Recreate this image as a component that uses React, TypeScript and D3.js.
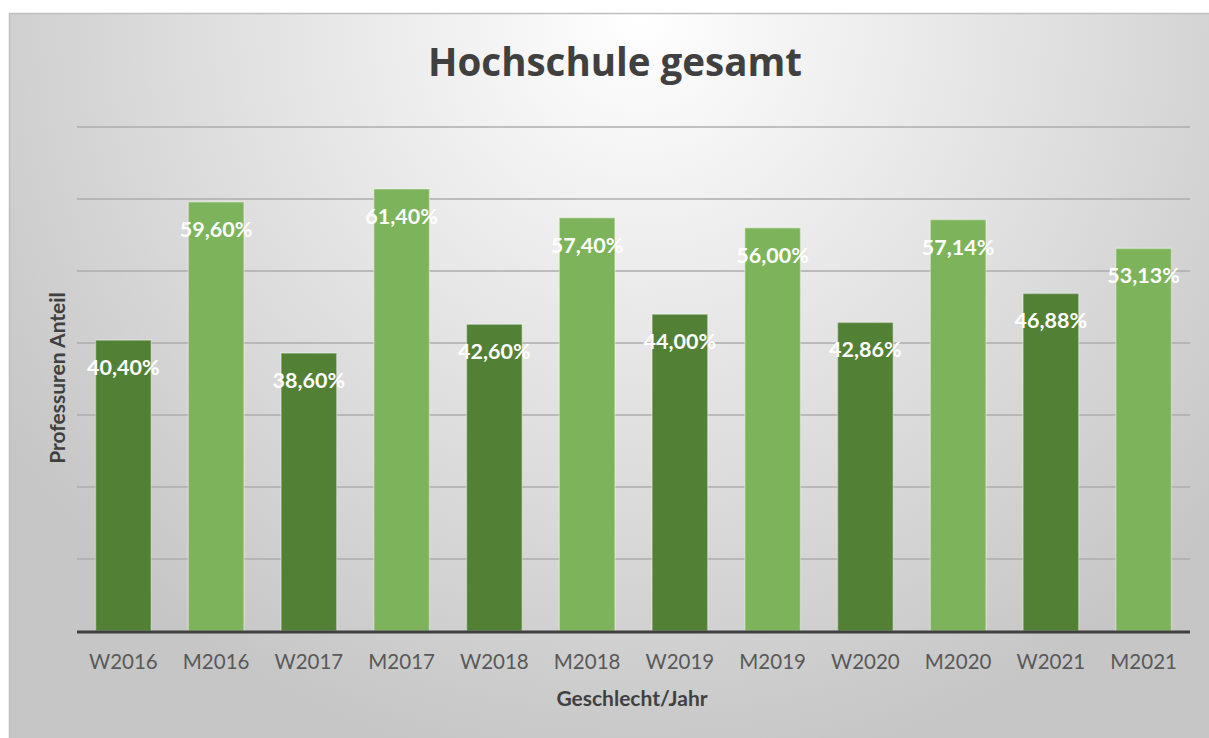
import React, { useRef, useEffect } from "react";
import * as d3 from "d3";

const categories = ["W2016", "M2016", "W2017", "M2017", "W2018", "M2018", "W2019", "M2019", "W2020", "M2020", "W2021", "M2021"];
const values = [40.4, 59.6, 38.6, 61.4, 42.6, 57.4, 44.0, 56.0, 42.86, 57.14, 46.88, 53.13];
const gridTicks = [10, 20, 30, 40, 50, 60, 70];

const W = 1209;
const H = 738;
const FONT = "Lato, 'Open Sans', sans-serif";
const TITLE_FONT = "'Open Sans', Lato, sans-serif";

export default function App() {
  const ref = useRef<SVGSVGElement>(null);

  useEffect(() => {
    const svg = d3.select(ref.current);
    svg.selectAll("*").remove();

    // hintergrund
    const defs = svg.append("defs");
    const grad = defs
      .append("radialGradient")
      .attr("id", "bg")
      .attr("gradientUnits", "userSpaceOnUse")
      .attr("cx", 640)
      .attr("cy", 20)
      .attr("r", 760);
    grad.append("stop").attr("offset", "0%").attr("stop-color", "#ffffff");
    grad.append("stop").attr("offset", "100%").attr("stop-color", "#c6c6c6");

    svg.append("rect")
      .attr("x", 9.5)
      .attr("y", 13.5)
      .attr("width", W)
      .attr("height", H)
      .attr("fill", "url(#bg)")
      .attr("stroke", "#bfbfbf")
      .attr("stroke-width", 1.5);

    const left = 77;
    const right = 1190;
    const x = d3.scaleBand<string>()
      .domain(categories)
      .range([left, right])
      .paddingInner(0.4)
      .paddingOuter(0.2);

    const y = d3.scaleLinear().domain([0, 70]).range([631, 127]);

    // gitterlinien
    svg.append("g")
      .selectAll("line")
      .data(gridTicks)
      .enter()
      .append("line")
      .attr("x1", left)
      .attr("x2", right)
      .attr("y1", d => y(d))
      .attr("y2", d => y(d))
      .attr("stroke", "#adadad")
      .attr("stroke-width", 1.5);

    // balken
    svg.append("g")
      .selectAll("rect")
      .data(values)
      .enter()
      .append("rect")
      .attr("x", (_, i) => x(categories[i])!)
      .attr("width", x.bandwidth())
      .attr("y", d => y(d))
      .attr("height", d => y(0) - y(d))
      .attr("fill", (_, i) => (i % 2 === 0 ? "#528034" : "#7db35a"))
      .attr("stroke", "rgba(255,255,255,0.35)")
      .attr("stroke-width", 1.5);

    // achse
    svg.append("line")
      .attr("x1", left)
      .attr("x2", right)
      .attr("y1", y(0) + 1)
      .attr("y2", y(0) + 1)
      .attr("stroke", "#404040")
      .attr("stroke-width", 3);

    // werte
    svg.append("g")
      .selectAll("text")
      .data(values)
      .enter()
      .append("text")
      .attr("x", (_, i) => x(categories[i])! + x.bandwidth() / 2)
      .attr("y", d => y(d) + 35)
      .attr("text-anchor", "middle")
      .attr("font-family", FONT)
      .attr("font-weight", "bold")
      .attr("font-size", 21.5)
      .attr("fill", "#ffffff")
      .text(d => d.toFixed(2).replace(".", ",") + "%");

    // kategorien
    svg.append("g")
      .selectAll("text")
      .data(categories)
      .enter()
      .append("text")
      .attr("x", d => x(d)! + x.bandwidth() / 2)
      .attr("y", 669)
      .attr("text-anchor", "middle")
      .attr("font-family", FONT)
      .attr("font-size", 20.5)
      .attr("fill", "#595959")
      .text(d => d);

    svg.append("text")
      .attr("x", 615)
      .attr("y", 76)
      .attr("text-anchor", "middle")
      .attr("font-family", TITLE_FONT)
      .attr("font-weight", "bold")
      .attr("font-size", 38.5)
      .attr("fill", "#404040")
      .text("Hochschule gesamt");

    svg.append("text")
      .attr("x", 632)
      .attr("y", 706)
      .attr("text-anchor", "middle")
      .attr("font-family", FONT)
      .attr("font-weight", "bold")
      .attr("font-size", 21)
      .attr("fill", "#404040")
      .text("Geschlecht/Jahr");

    svg.append("text")
      .attr("transform", "translate(65,378) rotate(-90)")
      .attr("text-anchor", "middle")
      .attr("font-family", FONT)
      .attr("font-weight", "bold")
      .attr("font-size", 21)
      .attr("fill", "#404040")
      .text("Professuren Anteil");
  }, []);

  return (
    <svg
      ref={ref}
      width={W}
      height={H}
      style={{ position: "absolute", left: 0, top: 0, display: "block" }}
    />
  );
}
